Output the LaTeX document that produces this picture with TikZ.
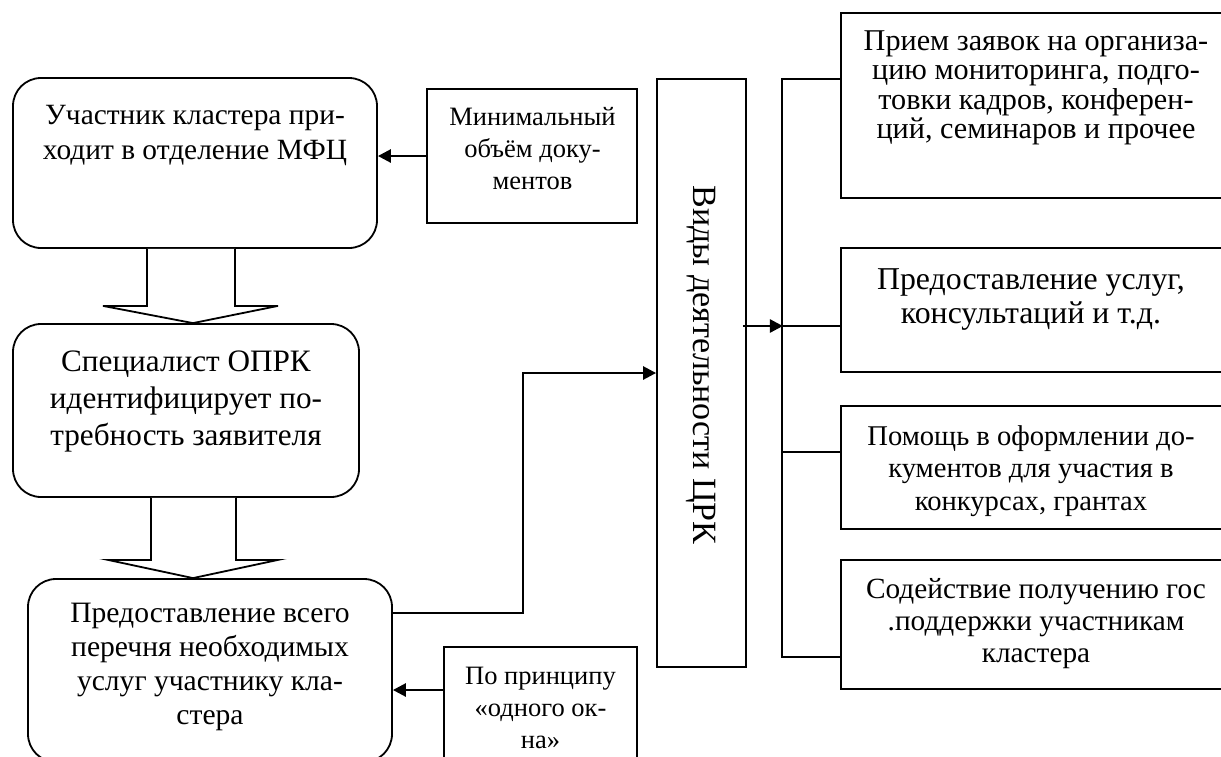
\documentclass[tikz,border=0pt]{standalone}
\usepackage{fontspec}
\setmainfont{Liberation Serif}
\usetikzlibrary{arrows.meta,calc}
\tikzset{
  box/.style={draw, line width=1.8pt, inner sep=0pt},
  rbox/.style={box, rounded corners=28pt},
  txt/.style={align=center, inner sep=0pt},
  arr/.style={line width=2.6pt, -{Triangle[length=13pt,width=13pt]}},
  ln/.style={line width=1.8pt},
  blk/.style={line width=1.8pt, fill=white, line join=miter},
}
\newcommand{\fz}[2]{\fontsize{#1}{#2}\selectfont}
\begin{document}
\begin{tikzpicture}[x=1pt,y=-1pt]
\clip (0,0) rectangle (1221,756);
\fill[white] (0,0) rectangle (1221,756);
% left column boxes
\node[rbox, minimum width=364pt, minimum height=170pt] (b1) at (195,163) {};
\node[rbox, minimum width=346pt, minimum height=173pt] (b2) at (186,410.5) {};
\node[rbox, minimum width=364pt, minimum height=183pt] (b3) at (210,670.5) {};
% side boxes
\node[box, minimum width=210pt, minimum height=134pt] (m) at (532,156) {};
\node[box, minimum width=193pt, minimum height=118pt] (p) at (540.5,706) {};
\node[box, minimum width=89pt, minimum height=588pt] (v) at (701.5,373) {};
% right boxes
\node[box, minimum width=384pt, minimum height=185pt] (A) at (1033,105.5) {};
\node[box, minimum width=384pt, minimum height=124pt] (B) at (1033,310) {};
\node[box, minimum width=384pt, minimum height=123pt] (C) at (1033,467.5) {};
\node[box, minimum width=384pt, minimum height=129pt] (D) at (1033,624.5) {};
% texts
\node[txt, font=\fz{29.4}{35}] (t1) at (195,135.5) {Участник кластера при-\\ходит в отделение МФЦ};
\node[txt, font=\fz{31.2}{37}] (t2) at (186,401) {Специалист ОПРК\\идентифицирует по-\\требность заявителя};
\node[txt, font=\fz{29.6}{34}] (t3) at (210,667) {Предоставление всего\\перечня необходимых\\услуг участнику кла-\\стера};
\node[txt, font=\fz{26.5}{32}] (tm) at (532.5,149) {Минимальный\\объём доку-\\ментов};
\node[txt, font=\fz{26.5}{32}] (tp) at (540.5,708) {По принципу\\«одного ок-\\на»};
\node[txt, font=\fz{34}{40}, rotate=-90] (tv) at (701.5,365) {Виды деятельности ЦРК};
\node[txt, font=\fz{30.2}{29.5}] (tA) at (1036,88) {Прием заявок на организа-\\цию мониторинга, подго-\\товки кадров, конферен-\\ций, семинаров и прочее};
\node[txt, font=\fz{31.8}{34}] (tB) at (1031,300) {Предоставление услуг,\\консультаций и т.д.};
\node[txt, font=\fz{28.6}{32.5}] (tC) at (1031,471) {Помощь в оформлении до-\\кументов для участия в\\конкурсах, грантах};
\node[txt, font=\fz{29.3}{32}] (tD) at (1036,624) {Содействие получению гос\\.поддержки участникам\\кластера};
% block arrows
\draw[blk] ($(b1.south)+(-48,0)$) -- ++(0,57) -- ++(-44,0) -- ($(b2.north)+(7,0)$) -- ($(b1.south)+(83,57)$) -- ++(-43,0) -- ($(b1.south)+(40,0)$);
\draw[blk] ($(b2.south)+(-35,0)$) -- ++(0,62) -- ++(-43,0) -- ($(b3.north)+(-17,0)$) -- ($(b2.south)+(92,62)$) -- ++(-42,0) -- ($(b2.south)+(50,0)$);
% arrows into left boxes
\draw[arr] (m.west) -- (m.west -| b1.east);
\coordinate (pw) at ($(p.west)+(0,-16)$);
\draw[arr] (pw) -- (pw -| b3.east);
% from b3 to v
\coordinate (b3o) at ($(b3.east)+(0,-57.5)$);
\coordinate (k1) at ($(v.west)+(-133,0)$);
\draw[arr] (b3o) -| (k1) -- (v.west);
% from v to bus
\coordinate (bj) at ($(v.east)+(36,-47)$);
\coordinate (bt) at (782,79);
\coordinate (bb) at (782,657);
\coordinate (bc) at (782,452);
\draw[arr] ($(v.east)+(-4,-47)$) -- (bj);
\draw[ln] (bj) -- (bj -| B.west);
\draw[ln] (A.west |- bt) -- (bt) -- (bb) -- (bb -| D.west);
\draw[ln] (bc) -- (bc -| C.west);
\end{tikzpicture}
\end{document}
